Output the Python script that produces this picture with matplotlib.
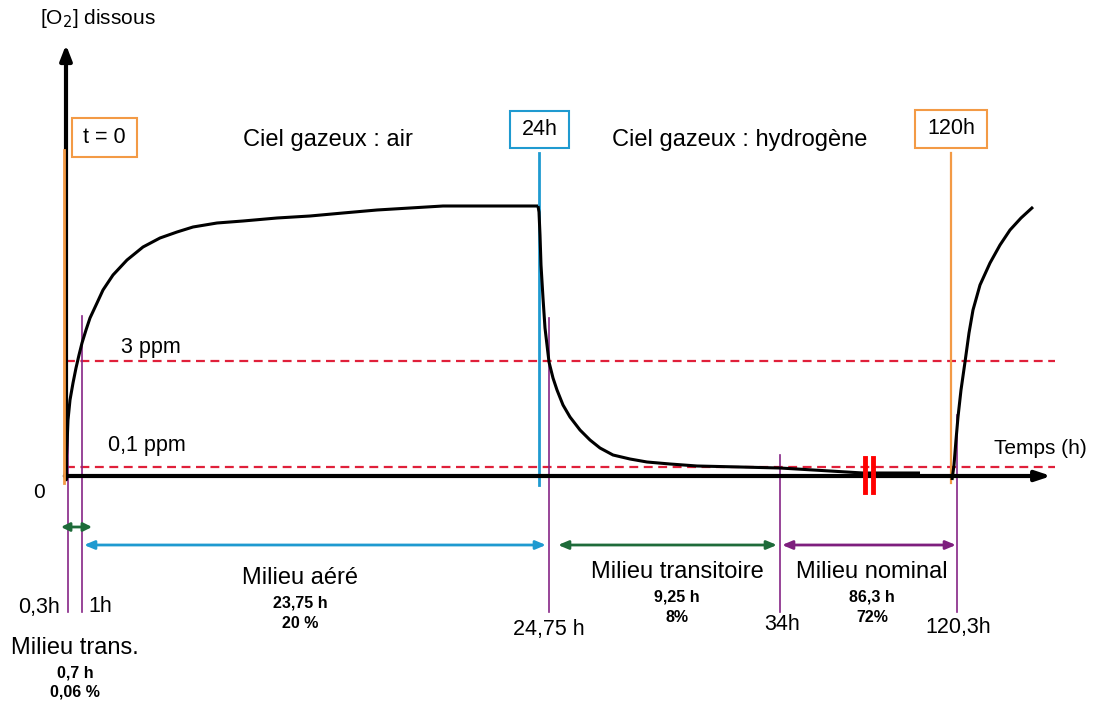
import matplotlib.pyplot as plt
from matplotlib.patches import Rectangle

plt.rcParams['font.family'] = ['Liberation Sans', 'DejaVu Sans']

# schematic curve of dissolved O2 (x: schematic time position, y: pixel height, down = lower)
rise_x = [65, 66, 67, 68, 70, 73, 76, 79, 82, 86, 90, 97, 103, 113, 127, 143, 160, 177, 193,
          217, 243, 277, 310, 343, 377, 410, 443, 490, 538]
rise_y = [476, 465, 445, 420, 400, 383, 368, 355, 343, 330, 318, 303, 290, 275, 260, 247, 238,
          232, 227, 223, 221, 218, 216, 213, 210, 208, 206, 206, 206]
decay_x = [538, 539, 540, 541, 543, 545, 549, 553, 557, 563, 570, 580, 590, 600, 613, 630, 647,
           670, 697, 740, 780, 830, 863, 920]
decay_y = [206, 212, 235, 265, 298, 328, 362, 378, 390, 405, 417, 430, 440, 448, 455, 459, 462,
           464, 466, 467, 468, 471, 473, 473]
reco_x = [952, 954, 956, 958, 961, 965, 969, 973, 980, 990, 1000, 1010, 1021, 1033]
reco_y = [480, 465, 440, 417, 390, 362, 333, 310, 285, 263, 245, 230, 218, 207]

# thresholds
threshold_labels = ["3 ppm", "0,1 ppm"]
threshold_y = [361, 467]

# events (hours) and their position on the schematic time axis
event_labels = ["0,3h", "1h", "24,75 h", "34h", "120,3h"]
event_x = [68, 82, 549, 780, 957]
event_top = [410, 316, 318, 455, 415]

# phases
phase_names = ["Milieu aéré", "Milieu transitoire", "Milieu nominal"]
phase_hours = ["23,75 h", "9,25 h", "86,3 h"]
phase_pct = ["20 %", "8%", "72%"]
phase_span = [(84, 546), (558, 777), (782, 956)]
phase_colors = ["#1F9AD0", "#1E6B3A", "#7E1F7E"]

orange = "#F39A45"
blue = "#1F9AD0"
purple = "#862586"
red = "#E0203A"

fig = plt.figure(figsize=(10.94, 7.05), dpi=100)
ax = fig.add_axes([0, 0, 1, 1])
ax.set_xlim(0, 1094)
ax.set_ylim(705, 0)
ax.axis('off')

# threshold lines
for lab, y in zip(threshold_labels, threshold_y):
    ax.plot([66, 1055], [y, y], color=red, lw=1.6, ls=(0, (4, 2.5)), zorder=2)
ax.text(151, 347, threshold_labels[0], ha='center', va='center', fontsize=15.5)
ax.text(147, 446, threshold_labels[1], ha='center', va='center', fontsize=15.5)

# event marker lines
for x, top in zip(event_x, event_top):
    ax.plot([x, x], [top, 612], color=purple, lw=1.2, zorder=3)

# phase changes
ax.plot([63.5, 63.5], [150, 483], color=orange, lw=2, zorder=8)
ax.plot([539, 539], [153, 485], color=blue, lw=2, zorder=3)
ax.plot([951, 951], [153, 483], color=orange, lw=1.6, zorder=3)

boxes = [("t = 0", 72, 118, 65, 39, orange), ("24h", 510, 111, 59, 37, blue),
         ("120h", 915, 110, 72, 38, orange)]
for txt, x0, y0, w, h, c in boxes:
    ax.add_patch(Rectangle((x0, y0), w, h, fill=False, edgecolor=c, lw=1.5, zorder=4))
    ax.text(x0 + w / 2, y0 + h / 2, txt, ha='center', va='center', fontsize=15.5, zorder=5)

ax.text(328, 140, "Ciel gazeux : air", ha='center', va='center', fontsize=17)
ax.text(740, 140, "Ciel gazeux : hydrogène", ha='center', va='center', fontsize=17)

# curve
for cx, cy in [(rise_x, rise_y), (decay_x, decay_y), (reco_x, reco_y)]:
    ax.plot(cx, cy, color='black', lw=2.2, zorder=6, solid_capstyle='butt', solid_joinstyle='round')

# axes arrows
ax.annotate('', xy=(66, 42), xytext=(66, 482),
            arrowprops=dict(arrowstyle='-|>,head_length=0.9,head_width=0.35', color='black', lw=3), zorder=7)
ax.annotate('', xy=(1054, 476), xytext=(62, 476),
            arrowprops=dict(arrowstyle='-|>,head_length=0.9,head_width=0.3', color='black', lw=3), zorder=7)
ax.text(98, 18, "[O$_2$] dissous", ha='center', va='center', fontsize=15)
ax.text(1040, 449, "Temps (h)", ha='center', va='center', fontsize=15)
ax.text(39, 493, "0", ha='center', va='center', fontsize=15)

# break marks
for x in [865, 873]:
    ax.plot([x, x], [458, 492], color='#FF0000', lw=3.5, zorder=8)

# phase arrows
ax.annotate('', xy=(61, 527), xytext=(92, 527),
            arrowprops=dict(arrowstyle='<|-|>,head_length=0.5,head_width=0.25', color="#1E6B3A", lw=2,
                            shrinkA=0, shrinkB=0))
for (x0, x1), c in zip(phase_span, phase_colors):
    ax.annotate('', xy=(x0, 545), xytext=(x1, 545),
                arrowprops=dict(arrowstyle='<|-|>,head_length=0.6,head_width=0.25', color=c, lw=2,
                                shrinkA=0, shrinkB=0))

# event labels
label_pos = [(39, 607), (100, 607), (549, 630), (782, 625), (958, 628)]
for lab, (x, y) in zip(event_labels, label_pos):
    ax.text(x, y, lab, ha='center', va='center', fontsize=15.5)

# phase labels
phase_pos = [(300, 578), (677, 572), (872, 572)]
for name, hrs, pct, (x, y) in zip(phase_names, phase_hours, phase_pct, phase_pos):
    ax.text(x, y, name, ha='center', va='center', fontsize=17)
    ax.text(x, y + 25, hrs, ha='center', va='center', fontsize=11.5, fontweight='bold')
    ax.text(x, y + 45, pct, ha='center', va='center', fontsize=11.5, fontweight='bold')

ax.text(75, 648, "Milieu trans.", ha='center', va='center', fontsize=17)
ax.text(75, 673, "0,7 h", ha='center', va='center', fontsize=11.5, fontweight='bold')
ax.text(75, 692, "0,06 %", ha='center', va='center', fontsize=11.5, fontweight='bold')

plt.savefig('out.png', dpi=100)
plt.close()
